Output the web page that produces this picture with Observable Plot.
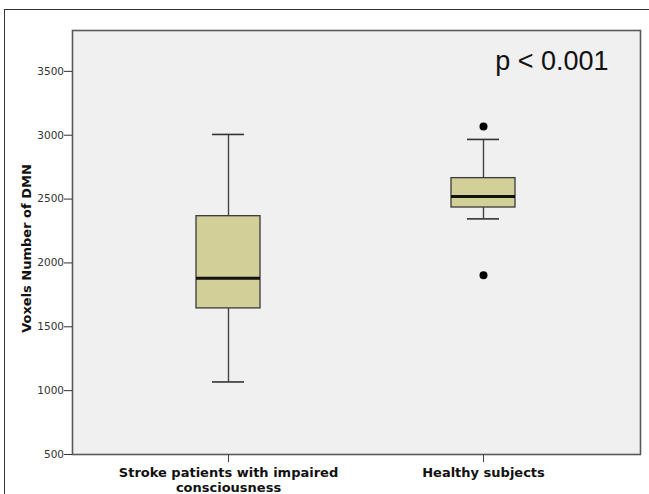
<!DOCTYPE html>
<html>
<head>
<meta charset="utf-8">
<script src="https://cdn.jsdelivr.net/npm/d3@7"></script>
<script src="https://cdn.jsdelivr.net/npm/@observablehq/plot@0.6"></script>
<style>
  html, body { margin: 0; padding: 0; background: #fff; overflow: hidden; }
  #wrap { position: relative; width: 649px; height: 494px; overflow: hidden; }
  #outer { position: absolute; left: 4px; top: 9px; width: 700px; height: 600px; border: 1px solid #333; box-sizing: border-box; pointer-events: none; }
  #chart { position: absolute; left: 0; top: 0; }
</style>
</head>
<body>
<div id="wrap"><div id="outer"></div><div id="chart"></div></div>
<script>
const groups = ["Stroke patients with impaired consciousness", "Healthy subjects"];
const groupLabels = ["Stroke patients with impaired\nconsciousness", "Healthy subjects"];
const whiskerLow = [1068, 2345];
const q1 = [1644, 2434];
const median = [1880, 2520];
const q3 = [2366, 2664];
const whiskerHigh = [3006, 2967];
const outlierGroups = ["Healthy subjects", "Healthy subjects"];
const outlierValues = [3069, 1903];
const yTicks = [500, 1000, 1500, 2000, 2500, 3000, 3500];
const yLabel = "Voxels Number of DMN";
const annotation = "p < 0.001";

const boxes = groups.map((g, i) => ({
  group: g, lo: whiskerLow[i], q1: q1[i], med: median[i], q3: q3[i], hi: whiskerHigh[i]
}));
const outliers = outlierGroups.map((g, i) => ({group: g, value: outlierValues[i]}));
const labelOf = new Map(groups.map((g, i) => [g, groupLabels[i]]));

const arial = "'Liberation Sans', Arial, sans-serif";
const tahoma = "'DejaVu Sans', Tahoma, Verdana, sans-serif";

const chart = Plot.plot({
  width: 649,
  height: 494,
  marginLeft: 72,
  marginRight: 9,
  marginTop: 30,
  marginBottom: 40,
  style: {fontFamily: tahoma, background: "transparent"},
  x: {type: "band", domain: groups, paddingInner: 0.749, paddingOuter: 0.488, axis: null},
  y: {domain: [500, 3820], axis: null},
  marks: [
    Plot.frame({fill: "#f0f0f0", stroke: null}),
    Plot.ruleX(boxes, {x: "group", y1: "lo", y2: "q1", stroke: "#444", strokeWidth: 1.4}),
    Plot.ruleX(boxes, {x: "group", y1: "q3", y2: "hi", stroke: "#444", strokeWidth: 1.4}),
    Plot.tickY(boxes, {x: "group", y: "lo", insetLeft: 16, insetRight: 16, stroke: "#333", strokeWidth: 1.6}),
    Plot.tickY(boxes, {x: "group", y: "hi", insetLeft: 16, insetRight: 16, stroke: "#333", strokeWidth: 1.6}),
    Plot.barY(boxes, {x: "group", y1: "q1", y2: "q3", fill: "#d3cf99", stroke: "#3a3a3a", strokeWidth: 1.3}),
    Plot.tickY(boxes, {x: "group", y: "med", stroke: "#111", strokeWidth: 3}),
    Plot.dot(outliers, {x: "group", y: "value", r: 4, fill: "#000", stroke: null}),
    Plot.text([annotation], {frameAnchor: "top-right", textAnchor: "end", lineAnchor: "top", dx: -32, dy: 20, fontSize: 27, fill: "#111", fontFamily: arial}),
    Plot.frame({stroke: "#5a5a5a", strokeWidth: 1.6}),
    Plot.axisY({ticks: yTicks, tickSize: 8, tickPadding: 0.5, fontSize: 10.5, fill: "#333", stroke: "#333", label: null, tickFormat: d => String(d)}),
    Plot.axisX({tickSize: 8, tickPadding: 5, fontSize: 13, fontWeight: "bold", fill: "#111", stroke: "#444", label: null, tickFormat: d => labelOf.get(d), lineHeight: 1.08}),
    Plot.text([yLabel], {frameAnchor: "left", rotate: -90, dx: -46, dy: 6, fontSize: 13, fontWeight: "bold", fill: "#111", textAnchor: "middle"})
  ]
});
document.getElementById("chart").appendChild(chart);
</script>
</body>
</html>
